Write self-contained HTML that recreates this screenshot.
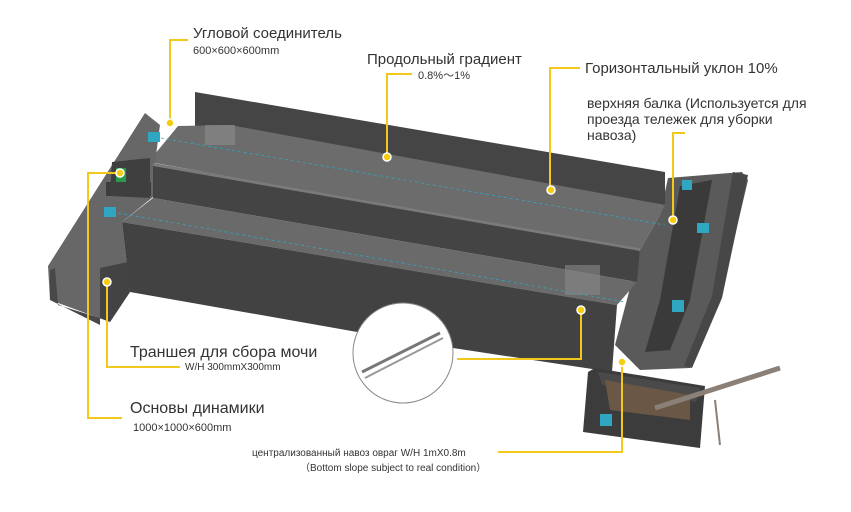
<!DOCTYPE html>
<html><head><meta charset="utf-8"><style>
html,body{margin:0;padding:0;background:#fff;}
svg{display:block;font-family:"Liberation Sans",sans-serif;}
</style></head><body>
<svg width="851" height="512" viewBox="0 0 851 512" xmlns="http://www.w3.org/2000/svg">
<!-- right cross trench -->
<polygon points="668,178 742,172 748,180 720,300 690,368 640,370 615,345 640,250 660,215" fill="#5a5a5a"/>
<polygon points="733,172 748,175 722,298 692,368 684,366 712,296" fill="#474747"/>
<polygon points="680,186 712,180 690,300 670,350 645,352 660,300" fill="#3a3a3a"/>
<!-- back wall -->
<polygon points="195,92 665,172 665,205 195,128" fill="#454545"/>
<!-- upper floor -->
<polygon points="150,160 178,126 230,125 665,205 660,215 640,250 155,163" fill="#6c6c6c"/>
<!-- left cross trench -->
<polygon points="48,266 145,113 160,125 155,163 153,197 122,222 130,292 110,322 50,300" fill="#676767"/>
<polygon points="50,270 55,268 58,305 100,318 100,325 50,300" fill="#484848"/>
<polygon points="100,268 128,262 130,292 110,322 100,318" fill="#434343"/>
<rect x="106" y="182" width="45" height="14" fill="#3c3c3c"/>
<polygon points="112,162 150,158 150,198 110,196" fill="#3f3f3f"/>
<!-- divider wall -->
<polygon points="153,163 640,248 637,282 153,198" fill="#444"/>
<polygon points="153,163 640,248 640,251 153,166" fill="#7a7a7a"/>
<!-- lower floor -->
<polygon points="153,198 637,282 617,305 122,222" fill="#6a6a6a"/>
<!-- front wall -->
<polygon points="122,222 617,305 612,372 420,343 130,292" fill="#424242"/>
<!-- bottom box -->
<polygon points="595,368 705,386 700,448 583,432 588,372" fill="#3c3c3c"/>
<polygon points="598,372 700,388 696,402 602,385" fill="#4a4a4a"/>
<polygon points="605,380 690,395 690,420 610,410" fill="#6b5746"/>
<line x1="655" y1="408" x2="780" y2="368" stroke="#8a8078" stroke-width="5"/>
<line x1="715" y1="400" x2="720" y2="445" stroke="#8a8078" stroke-width="2"/>
<!-- equipment -->
<rect x="148" y="132" width="12" height="10" fill="#2fa6c2"/>
<rect x="116" y="168" width="10" height="14" fill="#2a9a4a"/>
<rect x="104" y="207" width="12" height="10" fill="#2fa6c2"/>
<rect x="682" y="180" width="10" height="10" fill="#2fa6c2"/>
<rect x="697" y="223" width="12" height="10" fill="#2fa6c2"/>
<rect x="672" y="300" width="12" height="12" fill="#2fa6c2"/>
<rect x="600" y="414" width="12" height="12" fill="#2fa6c2"/>
<rect x="205" y="125" width="30" height="20" fill="#888" opacity=".7"/>
<rect x="565" y="265" width="35" height="30" fill="#888" opacity=".6"/>
<line x1="155" y1="137" x2="665" y2="225" stroke="#2fa6c2" stroke-width=".8" stroke-dasharray="3,3"/>
<line x1="112" y1="212" x2="625" y2="302" stroke="#2fa6c2" stroke-width=".8" stroke-dasharray="3,3"/>
<!-- circle detail -->
<circle cx="403" cy="353" r="50" fill="#fff" stroke="#888" stroke-width="1"/>
<line x1="362" y1="372" x2="440" y2="333" stroke="#777" stroke-width="3"/>
<line x1="365" y1="378" x2="443" y2="338" stroke="#999" stroke-width="2"/>
<!-- yellow leaders -->
<g stroke="#f2c91b" stroke-width="2" fill="none">
<polyline points="188,40 170,40 170,123"/>
<polyline points="412,74 387,74 387,157"/>
<polyline points="580,68 550,68 550,190"/>
<polyline points="685,133 673,133 673,220"/>
<polyline points="120,173 88,173 88,418 122,418"/>
<polyline points="107,282 107,367 180,367"/>
<polyline points="457,359 581,359 581,310"/>
<polyline points="498,452 622,452 622,362"/>
</g>
<g fill="#f5cc10" stroke="#fff" stroke-width="1.5">
<circle cx="170" cy="123" r="4"/><circle cx="387" cy="157" r="4"/><circle cx="551" cy="190" r="4"/>
<circle cx="673" cy="220" r="4"/><circle cx="120" cy="173" r="4"/><circle cx="107" cy="282" r="4"/>
<circle cx="581" cy="310" r="4"/><circle cx="622" cy="362" r="4"/>
</g>
<!-- labels -->
<g fill="#333">
<text x="193" y="38" font-size="15">Угловой соединитель</text>
<text x="193" y="54" font-size="11">600×600×600mm</text>
<text x="367" y="64" font-size="15">Продольный градиент</text>
<text x="418" y="79" font-size="11">0.8%～1%</text>
<text x="585" y="73" font-size="15">Горизонтальный уклон 10%</text>
<text x="587" y="108" font-size="14">верхняя балка  (Используется для</text>
<text x="587" y="124" font-size="14">проезда тележек для уборки</text>
<text x="587" y="140" font-size="14">навоза)</text>
<text x="130" y="357" font-size="16">Траншея для сбора мочи</text>
<text x="185" y="370" font-size="10">W/H 300mmX300mm</text>
<text x="130" y="413" font-size="16">Основы динамики</text>
<text x="133" y="431" font-size="11">1000×1000×600mm</text>
<text x="252" y="456" font-size="10">централизованный навоз овраг  W/H  1mX0.8m</text>
<text x="300" y="471" font-size="10">（Bottom slope subject to  real condition）</text>
</g>
</svg>
</body></html>
